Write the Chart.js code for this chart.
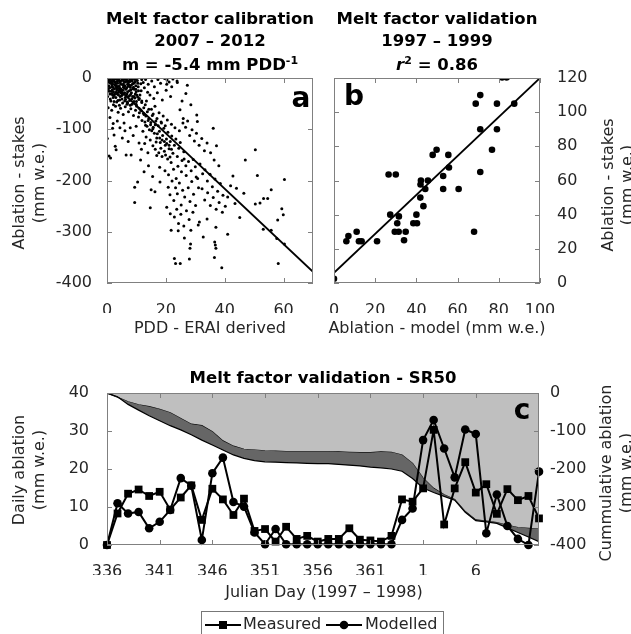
<!DOCTYPE html>
<html>
<head>
<meta charset="utf-8">
<script src="https://cdn.jsdelivr.net/npm/chart.js@4.4.0/dist/chart.umd.min.js"></script>
<style>
  body { margin: 0; background: #fff; width: 631px; height: 634px; overflow: hidden; position: relative; font-family: "DejaVu Sans", sans-serif; }
  canvas { position: absolute; left: 0; top: 0; }
  .t { position: absolute; white-space: nowrap; transform: translate(-50%, -50%); }
  .title { font-weight: bold; font-size: 16.5px; color: #000; }
  .ax { font-size: 16px; color: #262626; }
  .rot { transform: translate(-50%, -50%) rotate(-90deg); }
  .lab { font-weight: bold; font-size: 28px; color: #000; }
  sup { font-size: 11px; vertical-align: 6px; line-height: 0; }
  .legend { position: absolute; left: 201px; top: 611px; width: 243px; height: 30px; border: 1px solid #777; box-sizing: border-box; font-size: 16px; color: #262626; }
  .legend span { position: absolute; top: 2px; }
  .legend svg { position: absolute; top: 3px; }
</style>
</head>
<body>
<canvas id="ca" width="631" height="634"></canvas>
<canvas id="cb" width="631" height="634"></canvas>
<canvas id="cc" width="631" height="634"></canvas>

<div class="t title" style="left:210px;top:18px">Melt factor calibration</div>
<div class="t title" style="left:210px;top:40px">2007 – 2012</div>
<div class="t title" style="left:210px;top:64px">m = -5.4 mm PDD<sup>-1</sup></div>
<div class="t title" style="left:437px;top:18px">Melt factor validation</div>
<div class="t title" style="left:437px;top:40px">1997 – 1999</div>
<div class="t title" style="left:437px;top:64px"><i>r</i><sup>2</sup> = 0.86</div>
<div class="t lab" style="left:301px;top:97px">a</div>
<div class="t lab" style="left:354px;top:95px">b</div>
<div class="t lab" style="left:522px;top:409px">c</div>

<div class="t ax rot" style="left:18px;top:183px">Ablation - stakes</div>
<div class="t ax rot" style="left:38px;top:183px">(mm w.e.)</div>
<div class="t ax rot" style="left:607px;top:185px">Ablation - stakes</div>
<div class="t ax rot" style="left:626px;top:185px">(mm w.e.)</div>
<div class="t ax" style="left:210px;top:327px">PDD - ERAI derived</div>
<div class="t ax" style="left:437px;top:327px">Ablation - model (mm w.e.)</div>

<div class="t title" style="left:323px;top:377px">Melt factor validation - SR50</div>
<div class="t ax rot" style="left:18px;top:470px">Daily ablation</div>
<div class="t ax rot" style="left:38px;top:470px">(mm w.e.)</div>
<div class="t ax rot" style="left:605px;top:473px">Cummulative ablation</div>
<div class="t ax rot" style="left:625px;top:473px">(mm w.e.)</div>
<div class="t ax" style="left:324px;top:591px">Julian Day (1997 – 1998)</div>

<div class="legend">
  <svg width="36" height="20" style="left:3px"><line x1="0" y1="10" x2="36" y2="10" stroke="#000" stroke-width="2"/><rect x="14" y="6" width="8" height="8" fill="#000"/></svg>
  <span style="left:41px">Measured</span>
  <svg width="36" height="20" style="left:124px"><line x1="0" y1="10" x2="36" y2="10" stroke="#000" stroke-width="2"/><circle cx="18" cy="10" r="4.3" fill="#000"/></svg>
  <span style="left:163px">Modelled</span>
</div>

<script>
// panel a: PDD (ERAI) vs stake ablation, 2007-2012
const calibPoints = [
  [0.3,-3],[1.2,-1],[0.8,-9],[2.3,-4],[1.7,-13],[3.1,-2],[2.9,-11],[4.2,-6],[3.6,-17],[5.1,-1],[4.7,-12],[5.8,-7],[6.4,-3],[6.1,-15],[7.3,-9],[7.9,-2],[8.6,-6],[8.2,-14],[9.5,-3],[9.1,-10],[10.3,-5],
  [0.5,-21],[1.4,-26],[2.0,-18],[2.6,-31],[3.3,-23],[3.9,-28],[4.4,-20],[5.0,-34],[5.4,-24],[6.0,-29],[6.7,-19],[7.1,-37],[7.6,-25],[8.0,-32],[8.8,-21],[9.4,-39],[9.9,-27],[10.6,-17],[11.2,-33],
  [0.2,-36],[1.1,-41],[1.9,-33],[2.4,-46],[3.0,-38],[3.7,-44],[4.5,-36],[5.3,-49],[6.3,-42],[6.9,-47],[7.7,-44],[8.5,-51],[9.2,-46],[10.1,-55],[10.8,-42],
  [1.5,-6],[2.7,-8],[3.4,-7],[4.9,-5],[5.6,-11],[6.9,-6],[7.4,-13],[8.9,-1],[9.8,-15],[0.6,-15],[1.8,-23],[2.2,-27],[3.5,-31],[4.0,-25],[4.9,-27],[5.7,-31],[6.5,-34],[7.0,-27],[8.3,-29],[8.7,-36],[9.6,-31],[10.4,-37],[11.6,-25],
  [12.3,-9],[13.1,-3],[12.7,-19],[14.0,-12],[13.8,-28],[15.2,-6],[16.1,-17],[17.3,-3],[18.2,-10],[19.6,-1],[20.4,-4],[21.1,-8],[22.4,-2],[23.8,-6],[14.6,-33],[15.9,-40],[17.1,-29],[18.8,-43],[20.1,-24],[21.6,-36],
  [0.4,-58],[1.6,-63],[2.9,-55],[3.8,-67],[4.6,-59],[5.5,-71],[6.2,-56],[7.3,-66],[8.1,-60],[9.0,-73],[9.7,-63],[11.0,-68],[11.8,-48],[12.5,-58],[13.4,-45],
  [0.9,-2],[2.5,-1],[4.0,-3],[5.3,-4],[6.6,-1],[7.1,-5],[8.4,-3],[1.0,-31],[2.1,-38],[3.2,-15],[4.3,-43],[5.9,-19],[6.8,-51],[7.9,-18],[9.3,-22],[10.0,-46],[11.5,-11],
  [0.5,-6],[1.3,-10],[2.0,-7],[2.8,-14],[3.7,-4],[4.5,-9],[5.5,-14],[6.3,-8],[7.0,-12],[7.8,-7],[8.7,-11],[9.6,-8],[10.5,-10],[0.9,-19],[1.6,-17],[2.5,-21],[3.2,-19],[4.1,-16],[4.8,-22],[5.6,-18],[6.4,-22],[7.2,-16],[8.1,-23],[9.0,-18],[9.8,-22],[10.7,-25],
  [0.7,-26],[1.7,-30],[2.4,-34],[3.1,-28],[3.9,-33],[4.7,-29],[5.2,-32],[6.2,-38],[6.8,-31],[7.6,-35],[8.4,-41],[9.2,-36],[10.1,-33],[11.0,-40],[11.8,-45],[1.3,-45],[2.2,-52],[3.3,-47],[4.2,-53],[5.1,-41],[6.0,-45],[7.0,-49],[7.9,-53],[8.9,-47],[9.9,-51],
  [10.9,-59],[11.7,-64],[12.4,-69],[13.2,-74],[14.0,-83],[14.8,-91],[15.6,-99],[16.4,-91],[17.1,-109],[17.9,-117],[18.7,-121],[19.5,-124],[20.3,-128],[21.1,-131],[21.9,-139],[12.9,-86],[13.6,-94],[15.2,-103],[16.7,-125],[18.3,-137],[19.9,-150],[21.4,-154],
  [13.0,-52],[14.2,-61],[15.7,-70],[17.0,-79],[18.4,-86],[19.8,-93],[1.9,-3],[3.6,-10],[5.9,-2],[8.0,-4],[9.9,-1],[11.8,-3],
  [10.7,-76],[11.4,-62],[11.9,-83],[12.6,-71],[13.1,-92],[13.7,-66],[14.2,-79],[14.4,-101],[14.9,-87],[15.4,-73],[15.7,-96],[16.1,-108],[16.6,-84],[16.9,-117],[17.4,-93],[17.8,-104],[18.1,-126],[18.5,-88],[18.9,-112],[19.3,-98],
  [19.8,-131],[20.2,-119],[20.7,-106],[21.1,-138],[21.5,-124],[22.0,-113],[22.4,-147],[22.9,-131],[23.4,-119],[23.9,-153],[24.4,-137],[24.9,-126],[25.5,-161],[26.1,-144],
  [12.2,-104],[13.3,-115],[14.7,-121],[15.6,-132],[16.4,-139],[17.6,-146],[18.7,-153],[19.5,-143],[20.6,-158],[21.8,-165],[15.1,-61],[16.3,-55],[17.7,-68],[19.1,-74],[20.5,-82],[21.9,-90],[23.1,-97],[24.6,-103],[25.8,-88],
  [16.9,-151],[17.9,-174],[19.7,-181],[20.9,-189],[22.6,-178],[23.5,-196],
  [0.1,-118],[0.7,-152],[1.2,-156],[1.9,-98],[2.8,-133],[3.1,-140],[6.5,-150],[8.2,-150],[9.4,-213],[10.4,-203],[9.4,-243],[14.7,-253],[3.5,-84],[4.4,-97],[2.4,-111],[5.2,-117],[6.1,-103],[7.2,-124],[5.8,-88],[1.0,-77],[2.1,-89],
  [7.9,-97],[8.9,-112],[9.9,-94],[10.9,-127],[11.7,-139],[12.8,-128],[13.9,-146],[11.4,-160],[15.0,-218],[16.3,-222],[15.5,-192],[18.0,-203],[12.6,-183],[14.1,-171],
  [20.8,-213],[21.4,-228],[22.1,-201],[22.7,-239],[23.3,-214],[23.9,-226],[24.6,-205],[25.2,-248],[25.7,-219],[26.4,-232],[26.9,-190],[27.6,-214],[28.2,-241],[28.8,-202],[29.4,-227],[30.3,-193],[31.1,-214],
  [20.3,-252],[21.5,-265],[22.9,-271],[23.7,-256],[24.3,-284],[25.1,-266],[26.1,-289],[27.0,-259],[27.9,-276],[29.2,-262],[30.1,-249],[31.4,-281],
  [24.1,-172],[25.3,-183],[26.2,-158],[26.8,-171],[27.7,-163],[28.6,-181],[29.3,-159],[30.0,-173],[30.8,-196],[31.6,-168],[32.5,-187],[33.3,-179],[34.1,-201],[35.0,-188],[35.8,-212],[36.7,-197],[37.6,-221],[38.5,-206],[39.4,-229],
  [24.8,-62],[25.9,-79],[26.7,-96],[27.4,-84],[28.1,-112],[28.9,-101],[29.7,-123],[30.4,-108],[31.3,-131],[32.2,-118],[33.1,-142],[34.0,-127],[35.2,-146],[30.5,-72],[30.7,-85],[36.1,-98],[26.8,-30],[27.3,-14],[23.9,-9],[20.3,-12],[22.0,-17],[25.5,-45],[28.5,-52],[37.2,-132],[36.4,-160],[38.0,-171],
  [32.3,-216],[33.2,-238],[34.2,-224],[35.1,-249],[36.1,-233],[37.1,-256],[38.1,-243],[39.2,-262],[40.2,-250],[41.0,-232],[42.8,-191],[43.5,-245],[45.1,-272],[41.0,-305],[39.0,-370],[36.5,-350],[36.6,-320],[36.8,-326],[37.0,-332],
  [32.7,-310],[37.0,-291],[28.4,-324],[28.2,-332],[28.0,-353],[22.9,-352],[23.3,-362],[24.9,-362],[21.8,-297],[24.2,-298],[26.3,-312],[28.5,-297],[34.0,-275],[31.0,-287],
  [50.4,-140],[60.3,-198],[51.1,-190],[55.8,-218],[53.2,-235],[54.6,-235],[50.4,-246],[52.0,-244],[59.4,-255],[59.9,-267],[58.0,-277],[53.1,-295],[55.8,-297],[57.7,-313],[60.3,-324],[58.2,-362],[47.0,-160],[44.0,-215],[46.5,-225],[42.0,-210]
];
const calibFitX = [0, 70];
const calibFitY = [0, -378];

// panel b: modelled vs measured ablation, 1997-1999
const validModel = [0, 6, 7, 11, 12.1, 13.4, 20.9, 26.5, 30, 27.3, 29.5, 31.4, 30.7, 31.5, 34, 34.8, 38.5, 40.3, 40, 42.2, 42, 41.9, 43.4, 44.3, 45.6, 47.9, 49.8, 53, 53, 55.5, 55.8, 60.5, 68, 68.8, 71, 71, 71, 76.7, 79.1, 79.1, 81.6, 83.8, 87.5];
const validStake = [2.5, 24.4, 27.5, 30, 24.4, 24.4, 24.4, 63.5, 63.5, 40, 30, 30, 35, 39, 25, 30, 35, 35, 40, 60, 57.7, 50, 45, 55, 60, 75, 78, 62.6, 55, 75, 67.6, 55, 30, 105, 110, 90, 65, 78, 105, 90, 120.3, 120.3, 105];
const validFitX = [0, 100];
const validFitY = [6, 120];

// panel c: SR50 daily ablation, day 336 (1997) to day 12 (1998)
const dayIndex = [0,1,2,3,4,5,6,7,8,9,10,11,12,13,14,15,16,17,18,19,20,21,22,23,24,25,26,27,28,29,30,31,32,33,34,35,36,37,38,39,40,41];
const measuredDaily = [0, 8.3, 13.5, 14.6, 12.9, 14, 9.3, 12.5, 15.7, 6.6, 14.8, 12, 7.9, 12.2, 3.7, 4.2, 0.9, 4.8, 1.6, 2.4, 0.9, 1.6, 1.6, 4.4, 1.4, 1.2, 0.9, 2.4, 12, 11.4, 14.9, 30.3, 5.4, 14.9, 21.8, 13.8, 16, 8.2, 14.7, 11.8, 12.9, 7];
const modelledDaily = [0, 11, 8.3, 8.7, 4.4, 6.1, 9.2, 17.6, 15.6, 1.3, 18.9, 23, 11.3, 10.1, 3.3, 0.2, 4.2, 0.2, 0.2, 0.2, 0.2, 0.2, 0.2, 0.2, 0.2, 0.2, 0.2, 0.2, 6.6, 9.6, 27.6, 32.9, 25.4, 17.8, 30.4, 29.2, 3.1, 13.3, 5, 1.6, 0, 19.3];
const cumUpper = [0, -11, -23, -31, -36, -43, -52, -67, -82, -86, -102, -126, -140, -148, -150, -152, -153, -154, -154, -154, -154, -154, -155, -156, -157, -157, -155, -156, -163, -185, -224, -251, -268, -280, -312, -334, -337, -341, -348, -354, -356, -358];
const cumLower = [0, -10, -30, -45, -60, -73, -86, -97, -110, -124, -137, -150, -163, -172, -178, -181, -182, -183, -184, -185, -186, -186, -188, -190, -192, -195, -197, -200, -206, -225, -250, -262, -272, -282, -314, -336, -339, -343, -355, -367, -379, -391];

const tickFont = { family: 'DejaVu Sans', size: 16 };
const tickColor = '#262626';
const frameColor = '#808080';
const lightGray = '#bfbfbf';
const darkGray = '#666666';

function julianLabel(i) {
  return i < 30 ? 336 + i : i - 29;
}

// MATLAB-like box with inward tick marks
const frameTicks = {
  id: 'frameTicks',
  afterDatasetsDraw(chart, args, opts) {
    const { ctx, chartArea: a } = chart;
    const len = 5;
    ctx.save();
    ctx.strokeStyle = frameColor;
    ctx.lineWidth = 1;
    ctx.strokeRect(Math.round(a.left) + 0.5, Math.round(a.top) + 0.5, Math.round(a.width) - 1, Math.round(a.height) - 1);
    ctx.beginPath();
    for (const s of Object.values(chart.scales)) {
      s.ticks.forEach((t, i) => {
        const p = Math.round(s.getPixelForTick(i)) + 0.5;
        if (s.isHorizontal()) {
          ctx.moveTo(p, a.bottom); ctx.lineTo(p, a.bottom - len);
          ctx.moveTo(p, a.top); ctx.lineTo(p, a.top + len);
        } else {
          if (opts.mirror || s.position === 'left') { ctx.moveTo(a.left, p); ctx.lineTo(a.left + len, p); }
          if (opts.mirror || s.position === 'right') { ctx.moveTo(a.right, p); ctx.lineTo(a.right - len, p); }
        }
      });
    }
    ctx.stroke();
    ctx.restore();
  }
};

function axis(extra) {
  return Object.assign({
    type: 'linear',
    grid: { display: false },
    border: { display: false },
    ticks: { font: tickFont, color: tickColor, padding: 7 }
  }, extra);
}

const common = {
  responsive: false,
  animation: false,
  events: [],
  plugins: { legend: { display: false }, tooltip: { enabled: false } }
};

// panel a
new Chart(document.getElementById('ca'), {
  type: 'scatter',
  data: {
    datasets: [{
      data: calibPoints.map(p => ({ x: p[0], y: p[1] })),
      pointRadius: 1.5,
      backgroundColor: '#000',
      borderWidth: 0
    }, {
      type: 'line',
      data: calibFitX.map((x, i) => ({ x: x, y: calibFitY[i] })),
      borderColor: '#000',
      borderWidth: 1.8,
      pointRadius: 0
    }]
  },
  options: Object.assign({}, common, {
    layout: { padding: { left: 47, right: 318, top: 78, bottom: 321 } },
    plugins: Object.assign({}, common.plugins, { frameTicks: { mirror: true } }),
    scales: {
      x: axis({ min: 0, max: 70, ticks: { font: tickFont, color: tickColor, padding: 10, stepSize: 20 },
        afterBuildTicks: s => { s.ticks = s.ticks.filter(t => t.value % 20 === 0); },
        afterFit: s => { s.height = 30; } }),
      y: axis({ min: -400, max: 0, ticks: { font: tickFont, color: tickColor, padding: 7, stepSize: 100 },
        afterFit: s => { s.width = 60; } })
    }
  }),
  plugins: [frameTicks]
});

// panel b
new Chart(document.getElementById('cb'), {
  type: 'scatter',
  data: {
    datasets: [{
      data: validModel.map((x, i) => ({ x: x, y: validStake[i] })),
      pointRadius: 3.3,
      backgroundColor: '#000',
      borderWidth: 0
    }, {
      type: 'line',
      data: validFitX.map((x, i) => ({ x: x, y: validFitY[i] })),
      borderColor: '#000',
      borderWidth: 1.8,
      pointRadius: 0
    }]
  },
  options: Object.assign({}, common, {
    layout: { padding: { left: 334, right: 31, top: 78, bottom: 321 } },
    plugins: Object.assign({}, common.plugins, { frameTicks: { mirror: true } }),
    scales: {
      x: axis({ min: 0, max: 100, ticks: { font: tickFont, color: tickColor, padding: 10, stepSize: 20 },
        afterFit: s => { s.height = 30; } }),
      y: axis({ position: 'right', min: 0, max: 120, ticks: { font: tickFont, color: tickColor, padding: 9, stepSize: 20 },
        afterFit: s => { s.width = 60; } })
    }
  }),
  plugins: [frameTicks]
});

// panel c
new Chart(document.getElementById('cc'), {
  type: 'line',
  data: {
    datasets: [{
      label: 'Measured',
      data: dayIndex.map((d, i) => ({ x: d, y: measuredDaily[i] })),
      yAxisID: 'y',
      borderColor: '#000',
      borderWidth: 2,
      backgroundColor: '#000',
      pointStyle: 'rect',
      pointRadius: 5.5,
      pointBorderWidth: 0,
      clip: false,
      order: 0
    }, {
      label: 'Modelled',
      data: dayIndex.map((d, i) => ({ x: d, y: modelledDaily[i] })),
      yAxisID: 'y',
      borderColor: '#000',
      borderWidth: 2,
      backgroundColor: '#000',
      pointStyle: 'circle',
      pointRadius: 4.3,
      pointBorderWidth: 0,
      clip: false,
      order: 0
    }, {
      label: 'cum upper',
      data: dayIndex.map((d, i) => ({ x: d, y: cumUpper[i] })),
      yAxisID: 'y2',
      borderColor: '#000',
      borderWidth: 1.2,
      backgroundColor: lightGray,
      pointRadius: 0,
      fill: 'end',
      order: 2
    }, {
      label: 'cum lower',
      data: dayIndex.map((d, i) => ({ x: d, y: cumLower[i] })),
      yAxisID: 'y2',
      borderColor: '#000',
      borderWidth: 1.2,
      backgroundColor: darkGray,
      pointRadius: 0,
      fill: { target: 2, above: lightGray, below: darkGray },
      order: 1
    }]
  },
  options: Object.assign({}, common, {
    layout: { padding: { left: 47, right: 32, top: 393, bottom: 59 } },
    plugins: Object.assign({}, common.plugins, { frameTicks: { mirror: false } }),
    scales: {
      x: axis({ min: 0, max: 41, ticks: { font: tickFont, color: tickColor, padding: 9, stepSize: 5, callback: v => julianLabel(v) },
        afterBuildTicks: s => { s.ticks = s.ticks.filter(t => t.value % 5 === 0); },
        afterFit: s => { s.height = 30; } }),
      y: axis({ position: 'left', min: 0, max: 40, ticks: { font: tickFont, color: tickColor, padding: 10, stepSize: 10 },
        afterFit: s => { s.width = 60; } }),
      y2: axis({ position: 'right', min: -400, max: 0, ticks: { font: tickFont, color: tickColor, padding: 3, stepSize: 100 },
        afterFit: s => { s.width = 60; } })
    }
  }),
  plugins: [frameTicks]
});
</script>
</body>
</html>
